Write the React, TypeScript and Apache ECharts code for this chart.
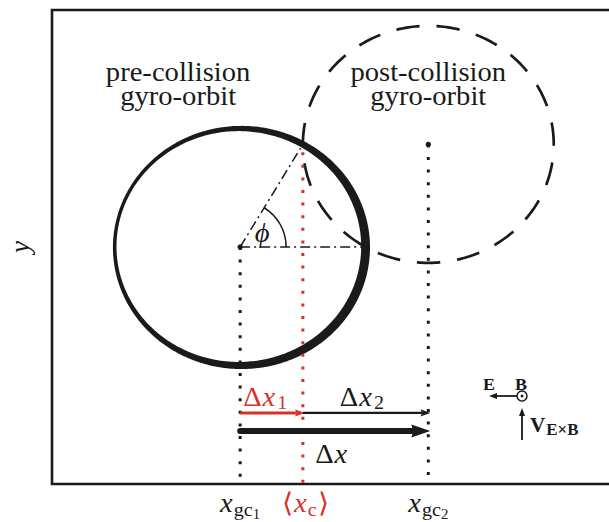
import React, { useEffect, useRef } from 'react';
import * as echarts from 'echarts';

// ---------- data (in units of the gyro-radius) ----------
const xExtent = [-1.5, 3.1];
const yExtent = [-2, 2];
const orbitCenterX = [0, 1.5]; // pre-collision, post-collision
const orbitCenterY = [0, 0.866];
const orbitRadius = [1, 1];
const orbitDashed = [0, 1];
const orbitTitles = [['pre-collision', 'gyro-orbit'], ['post-collision', 'gyro-orbit']];
const collisionPhiDeg = [60];
const guideX = [0, 0.5, 1.5]; // x_gc1, <x_c>, x_gc2
const guideTop = [0, 0.8, 0.866];
const guideIsRed = [0, 1, 0];
const guideLabels = ['gc1', 'c', 'gc2'];
const arrowStart = [0, 0.5, 0];
const arrowEnd = [0.5, 1.5, 1.5];
const arrowLevel = [-1.4, -1.4, -1.553];
const arrowKind = [0, 1, 2]; // red thin, black thin, black thick
const arrowLabels = ['1', '2', ''];

const INK = '#1a1a1a';
const RED = '#d8312a';
const FAMILY = 'Liberation Serif';
const SX = 1.06;

let measureCtx: CanvasRenderingContext2D | null = null;
function textWidth(t: string, font: string): number {
  if (!measureCtx) {
    const c = document.createElement('canvas');
    measureCtx = c.getContext('2d');
  }
  if (!measureCtx) return t.length * 12;
  measureCtx.font = font;
  return measureCtx.measureText(t).width;
}

type Run = { t: string; size: number; italic?: boolean; bold?: boolean; dy?: number; gap?: number };

function fontOf(r: Run) {
  return `${r.italic ? 'italic ' : ''}${r.bold ? 'bold ' : ''}${r.size}px "${FAMILY}"`;
}

function runsToTexts(x: number, baseline: number, runs: Run[], color: string, align: 'left' | 'center' = 'left') {
  const widths = runs.map((r) => textWidth(r.t, fontOf(r)) * SX + (r.gap || 0));
  const total = widths.reduce((a, b) => a + b, 0);
  let cur = align === 'center' ? x - total / 2 : x;
  return runs.map((r, i) => {
    const el = {
      type: 'text',
      x: cur,
      y: baseline + (r.dy || 0) - 0.34 * r.size,
      scaleX: SX,
      style: {
        text: r.t,
        fontFamily: FAMILY,
        fontSize: r.size,
        fontStyle: r.italic ? 'italic' : 'normal',
        fontWeight: r.bold ? 'bold' : 'normal',
        fill: color,
        align: 'left',
        verticalAlign: 'middle',
        textAlign: 'left',
        textVerticalAlign: 'middle',
      },
    };
    cur += widths[i];
    return el;
  });
}

function renderOrbit(params: any, api: any) {
  const i = params.dataIndex;
  const cx = api.value(0);
  const cy = api.value(1);
  const r = api.value(2);
  const dashed = api.value(3);
  const c = api.coord([cx, cy]);
  const rx = api.coord([cx + r, cy])[0] - c[0];
  const ry = c[1] - api.coord([cx, cy + r])[1];
  const N = 360;
  const children: any[] = [];
  if (!dashed) {
    const outer: number[][] = [];
    const inner: number[][] = [];
    for (let k = 0; k <= N; k++) {
      const th = (k / N) * 2 * Math.PI;
      const t = 6.2 + 2.8 * Math.cos(th + (20 * Math.PI) / 180);
      outer.push([c[0] + (rx + t / 2) * Math.cos(th), c[1] - (ry + t / 2) * Math.sin(th)]);
      inner.push([c[0] + (rx - t / 2) * Math.cos(th), c[1] - (ry - t / 2) * Math.sin(th)]);
    }
    children.push({
      type: 'polygon',
      shape: { points: outer.concat(inner.reverse()) },
      style: { fill: INK, stroke: null },
    });
  } else {
    const pts: number[][] = [];
    for (let k = 0; k <= N; k++) {
      const th = -Math.PI / 2 - (k / N) * 2 * Math.PI;
      pts.push([c[0] + rx * Math.cos(th), c[1] - ry * Math.sin(th)]);
    }
    const perim = Math.PI * (3 * (rx + ry) - Math.sqrt((3 * rx + ry) * (rx + 3 * ry)));
    const period = perim / 19;
    const dash = period * 0.58;
    children.push({
      type: 'polyline',
      shape: { points: pts },
      style: {
        stroke: INK,
        fill: null,
        lineWidth: 2.7,
        lineDash: [dash, period - dash],
        lineDashOffset: dash / 2,
      },
    });
  }
  children.push({ type: 'circle', shape: { cx: c[0], cy: c[1], r: 2.7 }, style: { fill: INK } });
  // titles
  const titles = orbitTitles[i];
  const tx = i === 0 ? c[0] - 62 : c[0];
  titles.forEach((line, li) => {
    children.push(...runsToTexts(tx, 81 + li * 23.5, [{ t: line, size: 27 }], INK, 'center'));
  });
  return { type: 'group', children };
}

function renderGuide(params: any, api: any) {
  const x = api.value(0);
  const top = api.value(1);
  const red = api.value(2);
  const i = params.dataIndex;
  const p0 = api.coord([x, top]);
  const p1 = api.coord([x, yExtent[0]]);
  const color = red ? RED : INK;
  const children: any[] = [
    {
      type: 'line',
      shape: { x1: p0[0], y1: p0[1], x2: p1[0], y2: p1[1] - 1 },
      style: { stroke: color, lineWidth: 3, lineDash: [3, 9.6], lineCap: 'butt' },
    },
  ];
  const sub = guideLabels[i];
  const base = p1[1] + 28;
  let runs: Run[];
  if (sub === 'c') {
    runs = [
      { t: '\u27E8', size: 27 },
      { t: 'x', size: 27, italic: true, gap: 1 },
      { t: 'c', size: 19, dy: 4, gap: 1 },
      { t: '\u27E9', size: 27 },
    ];
    children.push(...runsToTexts(p1[0] + 3, base, runs, RED, 'center'));
  } else {
    runs = [
      { t: 'x', size: 27, italic: true, gap: 1 },
      { t: 'gc', size: 19, dy: 4 },
      { t: sub.slice(2), size: 14, dy: 7 },
    ];
    children.push(...runsToTexts(p1[0], base, runs, INK, 'center'));
  }
  return { type: 'group', children };
}

function renderAngle(params: any, api: any) {
  const phi = (api.value(0) * Math.PI) / 180;
  const c = api.coord([orbitCenterX[0], orbitCenterY[0]]);
  const pc = api.coord([orbitCenterX[0] + orbitRadius[0] * Math.cos(phi), orbitCenterY[0] + orbitRadius[0] * Math.sin(phi)]);
  const ph = api.coord([orbitCenterX[0] + orbitRadius[0], orbitCenterY[0]]);
  const a = Math.atan2(c[1] - pc[1], pc[0] - c[0]);
  const dd = { stroke: INK, lineWidth: 1.5, lineDash: [10, 4, 2, 4] };
  return {
    type: 'group',
    children: [
      { type: 'line', shape: { x1: c[0], y1: c[1], x2: pc[0], y2: pc[1] }, style: dd },
      { type: 'line', shape: { x1: c[0], y1: c[1], x2: ph[0], y2: ph[1] }, style: dd },
      {
        type: 'arc',
        shape: { cx: c[0], cy: c[1], r: 46, startAngle: -a, endAngle: 0, clockwise: true },
        style: { stroke: INK, lineWidth: 1.5, fill: null },
      },
      ...runsToTexts(c[0] + 22, c[1] - 5, [{ t: '\u03D5', size: 27, italic: true }], INK, 'center'),
    ],
  };
}

function renderArrow(params: any, api: any) {
  const i = params.dataIndex;
  const kind = api.value(3);
  const s = api.coord([api.value(0), api.value(2)]);
  const e = api.coord([api.value(1), api.value(2)]);
  const color = kind === 0 ? RED : INK;
  const lw = kind === 2 ? 6 : kind === 0 ? 3 : 2.2;
  const hl = kind === 2 ? 19 : 10;
  const hw = kind === 2 ? 6.5 : 3.6;
  const tip = e[0] + 2;
  const children: any[] = [
    {
      type: 'line',
      shape: { x1: s[0], y1: s[1], x2: tip - hl + 2, y2: s[1] },
      style: { stroke: color, lineWidth: lw, lineCap: kind === 2 ? 'round' : 'butt' },
    },
    {
      type: 'polygon',
      shape: { points: [[tip, s[1]], [tip - hl, s[1] - hw], [tip - hl + 2, s[1]], [tip - hl, s[1] + hw]] },
      style: { fill: color },
    },
  ];
  const sub = arrowLabels[i];
  const runs: Run[] = [
    { t: '\u0394', size: 27, gap: 1 },
    { t: 'x', size: 27, italic: true, gap: 2 },
  ];
  if (sub) runs.push({ t: sub, size: 19, dy: 3 });
  if (kind === 2) {
    children.push(...runsToTexts(s[0] + 75, s[1] + 32, runs, color, 'left'));
  } else {
    children.push(...runsToTexts(kind === 0 ? s[0] + 3 : s[0] + 37, s[1] - 7, runs, color, 'left'));
  }
  return { type: 'group', children };
}

function renderKey() {
  // E x B orientation key (fixed in the corner)
  const bx = 522;
  const by = 396;
  return {
    type: 'group',
    children: [
      ...runsToTexts(483, 390, [{ t: 'E', size: 17, bold: true }], INK),
      ...runsToTexts(515, 390, [{ t: 'B', size: 17, bold: true }], INK),
      { type: 'circle', shape: { cx: bx, cy: by, r: 5 }, style: { stroke: INK, lineWidth: 1.5, fill: '#fff' } },
      { type: 'circle', shape: { cx: bx, cy: by, r: 1.4 }, style: { fill: INK } },
      { type: 'line', shape: { x1: bx - 5, y1: by, x2: 496, y2: by }, style: { stroke: INK, lineWidth: 1.8 } },
      { type: 'polygon', shape: { points: [[489, by], [497, by - 3], [497, by + 3]] }, style: { fill: INK } },
      { type: 'line', shape: { x1: bx, y1: 440, x2: bx, y2: 415 }, style: { stroke: INK, lineWidth: 1.8 } },
      { type: 'polygon', shape: { points: [[bx, 408], [bx - 3, 416], [bx + 3, 416]] }, style: { fill: INK } },
      ...runsToTexts(530, 432, [
        { t: 'V', size: 20, bold: true, gap: 1 },
        { t: 'E\u00D7B', size: 16, bold: true, dy: 3 },
      ], INK),
    ],
  };
}

export default function App() {
  const ref = useRef<HTMLDivElement>(null);
  useEffect(() => {
    if (!ref.current) return;
    const chart = echarts.init(ref.current, undefined, { renderer: 'svg' });
    const orbitData = orbitCenterX.map((x, i) => [x, orbitCenterY[i], orbitRadius[i], orbitDashed[i]]);
    const guideData = guideX.map((x, i) => [x, guideTop[i], guideIsRed[i]]);
    const arrowData = arrowStart.map((x, i) => [x, arrowEnd[i], arrowLevel[i], arrowKind[i]]);
    chart.setOption({
      animation: false,
      backgroundColor: '#ffffff',
      grid: {
        left: 52,
        top: 10,
        width: 577,
        height: 474,
        containLabel: false,
        outerBoundsMode: 'none',
        show: true,
        borderColor: INK,
        borderWidth: 2.6,
        backgroundColor: 'transparent',
      },
      xAxis: {
        type: 'value',
        min: xExtent[0],
        max: xExtent[1],
        axisLine: { show: false },
        axisTick: { show: false },
        axisLabel: { show: false },
        splitLine: { show: false },
      },
      yAxis: {
        type: 'value',
        min: yExtent[0],
        max: yExtent[1],
        name: 'y',
        nameLocation: 'middle',
        nameGap: 19,
        nameRotate: 90,
        nameTextStyle: { fontFamily: FAMILY, fontStyle: 'italic', fontSize: 27, color: INK },
        axisLine: { show: false },
        axisTick: { show: false },
        axisLabel: { show: false },
        splitLine: { show: false },
      },
      series: [
        { type: 'custom', name: 'orbits', renderItem: renderOrbit, data: orbitData, clip: false, silent: true, z: 2 },
        { type: 'custom', name: 'angle', renderItem: renderAngle, data: [collisionPhiDeg], clip: false, silent: true, z: 3 },
        { type: 'custom', name: 'guides', renderItem: renderGuide, data: guideData, clip: false, silent: true, z: 4 },
        { type: 'custom', name: 'arrows', renderItem: renderArrow, data: arrowData, clip: false, silent: true, z: 5 },
        { type: 'custom', name: 'key', renderItem: renderKey, data: [[0, 0]], clip: false, silent: true, z: 5 },
      ],
    });
    return () => chart.dispose();
  }, []);
  return <div ref={ref} style={{ position: 'fixed', left: 0, top: 0, width: 609, height: 522, background: '#fff' }} />;
}
